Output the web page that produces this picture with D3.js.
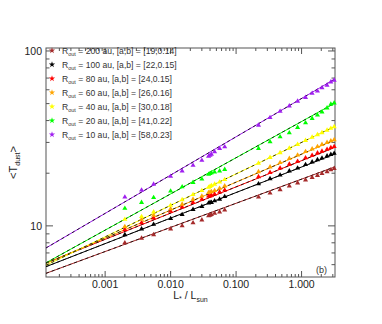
<!DOCTYPE html>
<meta charset="utf-8">
<head>
    <title>Tdust vs L</title>
</head>
<style>
body { margin: 0; background: #fff; }
svg { font-family: "Liberation Sans", Arial, sans-serif; }
.frame { fill: none; stroke: #555; stroke-width: 1; }
.tick line { stroke: #555; stroke-width: 1; }
.ticklab { font-size: 10.5px; fill: #222; }
.leg text { font-size: 8.6px; fill: #333; }
</style>
<body>
<script src="https://cdn.jsdelivr.net/npm/d3@7"></script>
<script>

// luminosities (L* / Lsun) of the models
var lum = [0.002, 0.0036, 0.0055, 0.01, 0.015, 0.022, 0.03, 0.038, 0.04, 0.042, 0.047, 0.056, 0.067,
           0.22, 0.33, 0.47, 0.65, 0.87, 1.15, 1.45, 1.75, 2.05, 2.45, 2.8, 3.15];

// <T_dust> for each outer radius
var tR200 = [8.0, 8.5, 8.9, 9.6, 10.0, 10.4, 10.8, 11.4, 11.5, 11.6, 11.8, 12.0, 12.3,
             14.6, 15.4, 16.1, 16.9, 17.6, 18.3, 18.9, 19.4, 19.9, 20.4, 20.9, 21.3];
var tR100 = [8.9, 9.6, 10.2, 11.0, 11.6, 12.4, 12.9, 13.5, 13.6, 13.6, 13.9, 14.2, 14.7,
             17.4, 18.6, 19.5, 20.6, 21.4, 22.4, 23.2, 23.9, 24.4, 25.1, 25.6, 26.0];
var tR80  = [9.5, 10.4, 11.1, 12.1, 12.8, 13.6, 14.2, 14.8, 14.8, 15.0, 15.2, 15.6, 16.0,
             19.1, 20.2, 21.4, 22.5, 23.4, 24.5, 25.3, 26.1, 26.7, 27.4, 28.0, 28.4];
var tR60  = [9.9, 10.9, 11.5, 12.5, 13.3, 14.2, 14.8, 15.5, 15.6, 15.7, 15.9, 16.4, 16.9,
             20.4, 21.7, 23.0, 24.3, 25.4, 26.6, 27.5, 28.4, 29.2, 30.0, 30.6, 31.1];
var tR40  = [10.9, 11.3, 12.0, 13.1, 14.1, 15.1, 15.9, 16.6, 16.8, 17.0, 17.3, 17.8, 18.4,
             22.8, 24.6, 26.2, 27.8, 29.2, 30.8, 32.1, 33.2, 34.1, 35.2, 36.1, 36.9];
var tR20  = [12.6, 13.6, 14.5, 15.8, 16.7, 17.7, 18.5, 19.7, 19.9, 20.1, 20.3, 20.6, 21.0,
             27.7, 30.2, 32.3, 34.0, 36.5, 38.8, 41.1, 43.0, 44.8, 47.2, 49.6, 50.4];
var tR10  = [14.6, 16.0, 17.3, 19.2, 20.6, 22.2, 23.7, 25.0, 25.3, 25.7, 26.5, 27.7, 28.3,
             37.6, 41.6, 45.2, 48.5, 51.6, 54.2, 57.2, 59.0, 61.5, 63.7, 66.5, 68.0];

var rOut   = [200, 100, 80, 60, 40, 20, 10];
var legA   = [19, 22, 24, 26, 30, 41, 58];
var legB   = ["0.14", "0.15", "0.15", "0.16", "0.18", "0.22", "0.23"];
// power-law fits as drawn (T = a L^b)
var fitA   = [18.5, 21.7, 23.6, 25.7, 30.0, 39.5, 53.5];
var fitB   = [0.138, 0.146, 0.150, 0.160, 0.180, 0.207, 0.219];
var colors = ["#a52a2a", "#000000", "#ff0000", "#ffa500", "#ffff00", "#00ff00", "#a020f0"];

var seriesT = [tR200, tR100, tR80, tR60, tR40, tR20, tR10];

var xTicks = [0.001, 0.01, 0.1, 1];
var yTicks = [10, 100];

var W = 382, H = 324;
var margin = {top: 48, right: 47, bottom: 47, left: 46},
    width = W - margin.left - margin.right,
    height = H - margin.top - margin.bottom;

var x = d3.scaleLog().domain([1.25e-4, 3.24]).range([0, width]);
var y = d3.scaleLog().domain([5.1, 104]).range([height, 0]);

var svg = d3.select("body").append("svg")
    .attr("width", W)
    .attr("height", H);

var g = svg.append("g")
    .attr("transform", "translate(" + margin.left + "," + margin.top + ")");

// minor + major tick values
function logTicks(dom) {
  var out = [];
  for (var e = -5; e <= 3; e++) {
    for (var m = 1; m <= 9; m++) {
      var v = m * Math.pow(10, e);
      if (v >= dom[0] && v <= dom[1]) out.push({v: v, major: m === 1});
    }
  }
  return out;
}

var xt = logTicks(x.domain()), yt = logTicks(y.domain());

// bottom & top ticks (inward)
[height, 0].forEach(function(y0) {
  var dir = y0 === 0 ? 1 : -1;
  g.append("g").attr("class", "tick").selectAll("line")
      .data(xt).enter().append("line")
      .attr("x1", function(d) { return x(d.v); })
      .attr("x2", function(d) { return x(d.v); })
      .attr("y1", y0)
      .attr("y2", function(d) { return y0 + dir * (d.major ? 6 : 3); });
});

// left & right ticks (inward)
[0, width].forEach(function(x0) {
  var dir = x0 === 0 ? 1 : -1;
  g.append("g").attr("class", "tick").selectAll("line")
      .data(yt).enter().append("line")
      .attr("y1", function(d) { return y(d.v); })
      .attr("y2", function(d) { return y(d.v); })
      .attr("x1", x0)
      .attr("x2", function(d) { return x0 + dir * (d.major ? 7 : 3.5); });
});

g.append("rect").attr("class", "frame")
    .attr("width", width).attr("height", height);

// tick labels
g.selectAll(".xlab").data(xTicks).enter().append("text")
    .attr("class", "ticklab")
    .attr("x", function(d) { return x(d); })
    .attr("y", height + 11)
    .attr("text-anchor", "middle")
    .text(d3.format(".3f"));

g.selectAll(".ylab").data(yTicks).enter().append("text")
    .attr("class", "ticklab")
    .attr("x", -4)
    .attr("y", function(d) { return y(d); })
    .attr("dy", "0.36em")
    .attr("text-anchor", "end")
    .text(function(d) { return d; });

// fit lines
var line = d3.line()
    .x(function(d) { return x(d[0]); })
    .y(function(d) { return y(d[1]); });

svg.append("clipPath").attr("id", "pc")
    .append("rect").attr("width", width).attr("height", height);

var lines = g.append("g").attr("clip-path", "url(#pc)");
fitA.forEach(function(a, i) {
  var pts = x.domain().map(function(L) { return [L, a * Math.pow(L, fitB[i])]; });
  lines.append("path")
      .attr("d", line(pts))
      .style("fill", "none")
      .style("stroke", colors[i])
      .style("stroke-width", 1);
  lines.append("path")
      .attr("d", line(pts))
      .style("fill", "none")
      .style("stroke", "#000")
      .style("stroke-width", 0.8)
      .style("stroke-dasharray", "3,3");
});

// data points
var tri = d3.symbol().type(d3.symbolTriangle).size(11);
seriesT.forEach(function(ts, i) {
  g.append("g").selectAll("path")
      .data(ts).enter().append("path")
      .attr("d", tri)
      .attr("transform", function(d, j) { return "translate(" + x(lum[j]) + "," + y(d) + ")"; })
      .style("fill", colors[i]);
});

// legend
var legend = g.selectAll(".leg")
    .data(rOut).enter().append("g")
    .attr("class", "leg")
    .attr("transform", function(d, i) { return "translate(0," + (2.5 + i * 14) + ")"; });

legend.append("path")
    .attr("d", d3.symbol().type(d3.symbolStar).size(12))
    .attr("transform", "translate(6,0)")
    .style("fill", function(d, i) { return colors[i]; });

var lt = legend.append("text")
    .attr("x", 16)
    .attr("y", 0)
    .attr("dy", "0.35em");
lt.append("tspan").text("R");
lt.append("tspan").attr("dy", "2").style("font-size", "5.5px").text("out");
lt.append("tspan").attr("dy", "-2")
    .text(function(d, i) { return " = " + d + " au, [a,b] = [" + legA[i] + "," + legB[i] + "]"; });

// panel label
g.append("text")
    .attr("x", width - 8)
    .attr("y", height - 4)
    .attr("text-anchor", "end")
    .style("font-size", "9px")
    .style("fill", "#333")
    .text("(b)");

// axis titles
var xt2 = svg.append("text")
    .attr("x", margin.left + width / 2)
    .attr("y", H - 25)
    .attr("text-anchor", "middle")
    .style("font-size", "10.5px")
    .style("fill", "#222");
xt2.append("tspan").text("L");
xt2.append("tspan").attr("dy", 2).style("font-size", "7px").text("*");
xt2.append("tspan").attr("dy", -2).text(" / L");
xt2.append("tspan").attr("dy", 3).style("font-size", "7px").text("sun");

var yt2 = svg.append("text")
    .attr("transform", "translate(17," + (margin.top + height / 2) + ") rotate(-90)")
    .attr("text-anchor", "middle")
    .style("font-size", "11px")
    .style("fill", "#222");
yt2.append("tspan").text("<T");
yt2.append("tspan").attr("dy", 3).style("font-size", "7px").text("dust");
yt2.append("tspan").attr("dy", -3).text(">");

</script>
</body>
